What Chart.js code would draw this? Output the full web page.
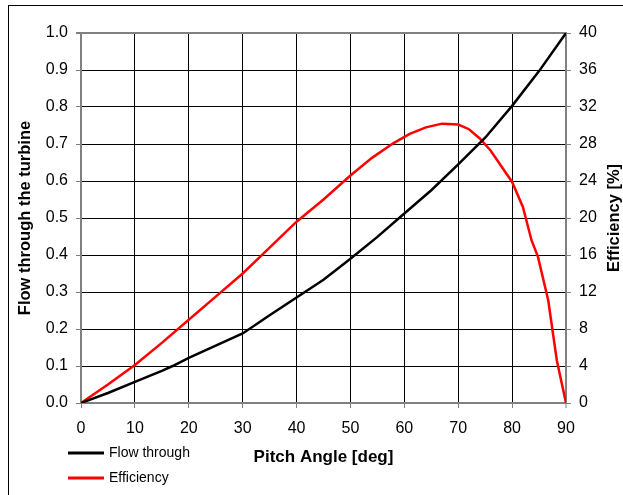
<!DOCTYPE html>
<html>
<head>
<meta charset="utf-8">
<script src="https://cdn.jsdelivr.net/npm/chart.js@4/dist/chart.umd.min.js"></script>
<style>
  html, body { margin: 0; padding: 0; background: #fff; }
  #wrap { width: 623px; height: 495px; position: relative; }
</style>
</head>
<body>
<div id="wrap"><canvas id="c" width="623" height="495"></canvas></div>
<script>
// ---- data ----
const flowAngles = [0, 5, 10, 15, 17, 20, 25, 30, 35, 40, 45, 50, 55, 60, 65, 70, 75, 80, 85, 90];
const flowValues = [0, 0.027, 0.057, 0.087, 0.1, 0.122, 0.155, 0.188, 0.237, 0.285, 0.333, 0.39, 0.449, 0.512, 0.575, 0.645, 0.717, 0.803, 0.897, 1.0];

const effAngles = [0, 5, 10, 15, 20, 25, 30, 35, 40, 45, 50, 54, 58, 61, 64, 67, 70, 72, 74, 76, 78, 80, 82, 83.6, 84.8, 86.7, 88.3, 90];
const effValues = [0, 2.0, 4.1, 6.5, 9.0, 11.5, 14.0, 16.8, 19.6, 22.0, 24.6, 26.5, 28.1, 29.1, 29.8, 30.2, 30.1, 29.6, 28.6, 27.3, 25.6, 23.9, 21.2, 17.6, 15.8, 11.1, 4.6, 0];

const seriesNames = ['Flow through', 'Efficiency'];
const xTitle = 'Pitch Angle [deg]';
const yLeftTitle = 'Flow through the turbine';
const yRightTitle = 'Efficiency [%]';

const FONT = "'Liberation Sans', Arial, sans-serif";

const toPts = (xs, ys) => xs.map((x, i) => ({ x: x, y: ys[i] }));

const framePlugin = {
  id: 'frame',
  beforeDraw(chart) {
    const ctx = chart.ctx;
    ctx.save();
    ctx.fillStyle = '#fff';
    ctx.fillRect(0, 0, chart.width, chart.height);
    ctx.strokeStyle = '#000';
    ctx.lineWidth = 1;
    ctx.strokeRect(8.5, 5.5, 700, 600);
    ctx.restore();
  }
};

const extrasPlugin = {
  id: 'extras',
  afterDraw(chart) {
    const ctx = chart.ctx;
    const area = chart.chartArea;
    ctx.save();
    // right axis title, reading bottom to top
    ctx.font = "bold 16.5px " + FONT;
    ctx.fillStyle = '#000';
    ctx.textAlign = 'center';
    ctx.textBaseline = 'middle';
    ctx.translate(614, (area.top + area.bottom) / 2);
    ctx.rotate(-Math.PI / 2);
    ctx.fillText(yRightTitle, 0, 0);
    ctx.restore();

    // legend
    ctx.save();
    const rows = [453, 478];
    chart.data.datasets.forEach((ds, i) => {
      const y = rows[i];
      ctx.strokeStyle = ds.borderColor;
      ctx.lineWidth = 3;
      ctx.beginPath();
      ctx.moveTo(68, y);
      ctx.lineTo(104, y);
      ctx.stroke();
      ctx.font = "14px " + FONT;
      ctx.fillStyle = '#000';
      ctx.textAlign = 'left';
      ctx.textBaseline = 'middle';
      ctx.fillText(ds.label, 109, y);
    });
    ctx.restore();
  }
};

const GRID = '#000000';
const AXIS = '#808080';

new Chart(document.getElementById('c'), {
  type: 'line',
  data: {
    datasets: [
      {
        label: seriesNames[0],
        data: toPts(flowAngles, flowValues),
        borderColor: '#000000',
        backgroundColor: '#000000',
        borderWidth: 2.5,
        pointRadius: 0,
        tension: 0,
        yAxisID: 'y'
      },
      {
        label: seriesNames[1],
        data: toPts(effAngles, effValues),
        borderColor: '#ff0000',
        backgroundColor: '#ff0000',
        borderWidth: 2.5,
        pointRadius: 0,
        tension: 0,
        yAxisID: 'y2'
      }
    ]
  },
  options: {
    responsive: false,
    animation: false,
    devicePixelRatio: 1,
    layout: { padding: { left: 0, right: 0, top: 33, bottom: 0 } },
    plugins: {
      legend: { display: false },
      tooltip: { enabled: false }
    },
    scales: {
      x: {
        type: 'linear',
        min: 0, max: 90,
        ticks: { stepSize: 10, color: '#000', font: { family: FONT, size: 16 }, padding: 11, maxRotation: 0 },
        grid: {
          color: (c) => (c.tick && c.tick.value === 90) ? AXIS : GRID,
          lineWidth: (c) => (c.tick && c.tick.value === 90) ? 2 : 1,
          tickColor: AXIS, tickLength: 5, tickWidth: 1
        },
        border: { color: AXIS, width: 2 },
        title: { display: true, text: xTitle, color: '#000', font: { family: FONT, size: 17, weight: 'bold' }, padding: { top: 0, bottom: 27 } },
        afterFit: (s) => { s.height = 92; }
      },
      y: {
        position: 'left',
        min: 0, max: 1,
        ticks: { stepSize: 0.1, color: '#000', font: { family: FONT, size: 16 }, padding: 8, callback: (v) => Number(v).toFixed(1) },
        grid: {
          color: (c) => (c.tick && Math.abs(c.tick.value - 1) < 1e-9) ? AXIS : GRID,
          lineWidth: (c) => (c.tick && Math.abs(c.tick.value - 1) < 1e-9) ? 2 : 1,
          tickColor: AXIS, tickLength: 5
        },
        border: { color: AXIS, width: 2 },
        title: { display: true, text: yLeftTitle, color: '#000', font: { family: FONT, size: 16.5, weight: 'bold' }, padding: { top: 16, bottom: 0 } },
        afterFit: (s) => { s.width = 81; }
      },
      y2: {
        position: 'right',
        min: 0, max: 40,
        ticks: { stepSize: 4, color: '#000', font: { family: FONT, size: 16 }, padding: 8 },
        grid: { drawOnChartArea: false, tickColor: AXIS, tickLength: 5 },
        border: { color: AXIS, width: 2 },
        afterFit: (s) => { s.width = 57; }
      }
    }
  },
  plugins: [framePlugin, extrasPlugin]
});
</script>
</body>
</html>
